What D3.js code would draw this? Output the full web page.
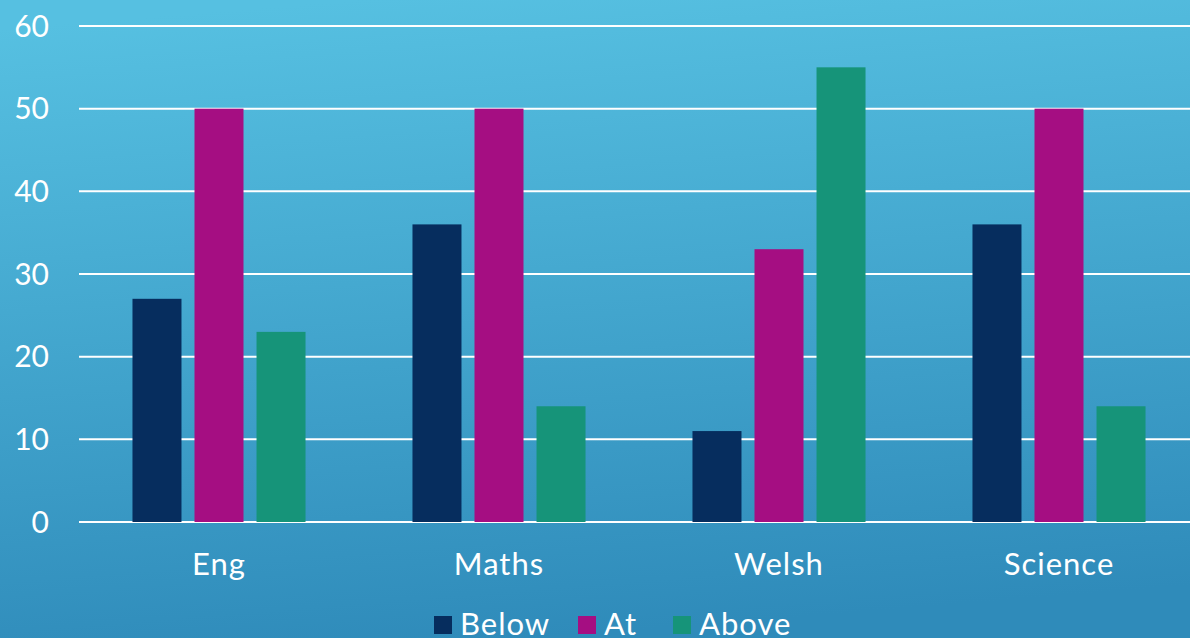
<!DOCTYPE html>
<html>
<head>
<meta charset="utf-8">
<script src="https://cdn.jsdelivr.net/npm/d3@7"></script>
<style>
  html, body { margin: 0; padding: 0; overflow: hidden; }
  text { font-family: Lato, "Noto Sans", sans-serif; fill: #ffffff; }
</style>
</head>
<body>
<script>
// data
const subjects = ["Eng", "Maths", "Welsh", "Science"];
const series = ["Below", "At", "Above"];
const below = [27, 36, 11, 36];
const at = [50, 50, 33, 50];
const above = [23, 14, 55, 14];
const yTicks = [0, 10, 20, 30, 40, 50, 60];
const colors = ["#062d5e", "#a50e82", "#169479"];

const dataset = subjects.map((s, i) => ({
    subject: s,
    values: [below[i], at[i], above[i]]
}));

const width = 1190;
const height = 638;

const svg = d3.select("body")
    .append("svg")
    .attr("width", width)
    .attr("height", height);

// background gradient
const grad = svg.append("defs").append("linearGradient")
    .attr("id", "bg")
    .attr("x1", "0.3").attr("y1", "0")
    .attr("x2", "0.45").attr("y2", "1");
grad.append("stop").attr("offset", "0").attr("stop-color", "#56c0e1");
grad.append("stop").attr("offset", "1").attr("stop-color", "#2f8bba");

svg.append("rect")
    .attr("width", width)
    .attr("height", height)
    .attr("fill", "url(#bg)");

// X scales
const x0 = d3.scaleBand()
    .domain(subjects)
    .range([79, 1199])
    .paddingInner(0.382)
    .paddingOuter(0.191);

const x1 = d3.scaleBand()
    .domain(series)
    .range([0, x0.bandwidth()])
    .paddingInner(0.21);

// Y scale
const y = d3.scaleLinear()
    .domain([0, 60])
    .range([522, 26]);

// gridlines
svg.append("g")
    .selectAll("line")
    .data(yTicks)
    .enter()
    .append("line")
    .attr("x1", 79)
    .attr("x2", width)
    .attr("y1", d => y(d))
    .attr("y2", d => y(d))
    .attr("stroke", "#ffffff")
    .attr("stroke-width", 2);

// y labels
svg.append("g")
    .selectAll("text")
    .data(yTicks)
    .enter()
    .append("text")
    .attr("x", 49)
    .attr("y", d => y(d))
    .attr("dy", "0.36em")
    .attr("text-anchor", "end")
    .attr("font-size", 30)
    .text(d => d);

// bars
const groups = svg.append("g")
    .selectAll("g")
    .data(dataset)
    .enter()
    .append("g")
    .attr("transform", d => `translate(${x0(d.subject)},0)`);

groups.selectAll("rect")
    .data(d => d.values.map((v, i) => ({key: series[i], value: v, i: i})))
    .enter()
    .append("rect")
    .attr("x", d => x1(d.key))
    .attr("y", d => y(d.value))
    .attr("width", x1.bandwidth())
    .attr("height", d => y(0) - y(d.value))
    .attr("fill", d => colors[d.i]);

// category labels
svg.append("g")
    .selectAll("text")
    .data(subjects)
    .enter()
    .append("text")
    .attr("x", d => x0(d) + x0.bandwidth() / 2)
    .attr("y", 575)
    .attr("text-anchor", "middle")
    .attr("font-size", 31)
    .attr("letter-spacing", 1)
    .text(d => d);

// legend
const legendX = [434, 578, 673];
const legend = svg.append("g")
    .selectAll("g")
    .data(series)
    .enter()
    .append("g")
    .attr("transform", (d, i) => `translate(${legendX[i]},616)`);

legend.append("rect")
    .attr("width", 18)
    .attr("height", 18)
    .attr("fill", (d, i) => colors[i]);

legend.append("text")
    .attr("x", 26)
    .attr("y", 19)
    .attr("font-size", 31)
    .attr("letter-spacing", 1)
    .text(d => d);
</script>
</body>
</html>
